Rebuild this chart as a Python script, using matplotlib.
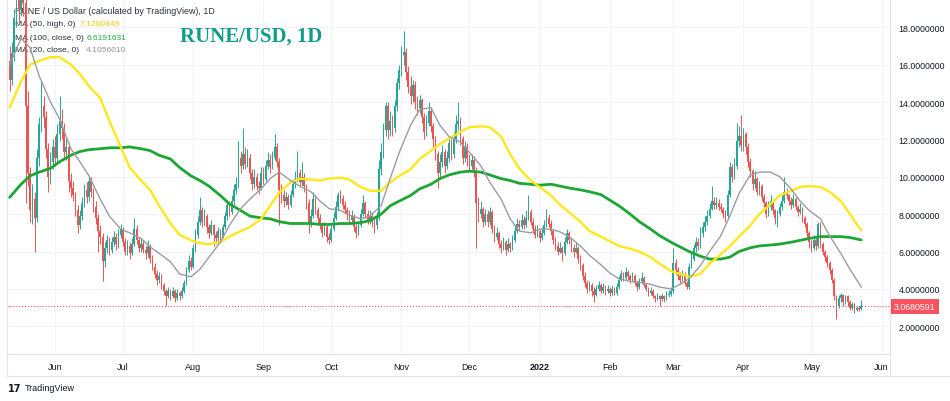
import numpy as np
import pandas as pd
import matplotlib
matplotlib.use("Agg")
import matplotlib.pyplot as plt
import matplotlib.dates as mdates
from matplotlib.lines import Line2D
from matplotlib.transforms import blended_transform_factory

# daily candles, first bar 2021-05-12
start_date = "2021-05-12"

opens = [
    16.2, 15.2, 16.6, 18.5, 19.8, 19.0, 20.5, 19.3, 13.8, 10.2,
    8.2, 8.8, 7.8, 11.0, 12.8, 13.8, 13.2, 11.5, 10.0, 10.8,
    11.6, 11.0, 12.3, 13.0, 12.6, 11.3, 11.6, 9.8, 9.4, 9.0,
    8.2, 7.4, 7.9, 8.6, 9.3, 8.9, 9.8, 9.2, 8.4, 7.8,
    7.1, 6.8, 5.5, 6.2, 6.6, 6.1, 6.5, 6.8, 6.4, 6.9,
    7.2, 6.5, 6.0, 6.3, 5.9, 6.4, 7.2, 6.6, 6.2, 6.4,
    6.1, 5.9, 6.3, 5.6, 5.2, 4.8, 4.5, 4.7, 4.2, 3.9,
    3.6, 3.9, 3.6, 3.9, 3.5, 3.8, 3.6, 3.9, 4.3, 5.0,
    5.5, 5.2, 6.2, 6.9, 7.6, 8.2, 7.6, 7.9, 7.3, 7.0,
    7.4, 6.9, 6.7, 7.1, 6.8, 7.3, 7.9, 8.5, 8.1, 8.7,
    9.3, 9.6, 11.0, 10.6, 11.2, 10.7, 11.0, 10.2, 9.6, 10.0,
    9.5, 9.4, 10.2, 9.9, 10.6, 10.9, 10.5, 11.0, 11.6, 10.8,
    9.3, 9.0, 8.7, 8.9, 8.5, 9.0, 9.6, 9.9, 10.2, 9.7,
    10.0, 9.5, 8.6, 7.5, 7.9, 8.8, 8.2, 7.8, 7.4, 7.0,
    7.3, 6.8, 6.6, 7.2, 7.8, 8.4, 9.0, 8.8, 8.5, 8.2,
    8.0, 7.7, 7.9, 7.3, 7.0, 7.4, 8.0, 8.6, 8.0, 7.7,
    7.9, 7.6, 7.4, 7.8, 10.4, 11.3, 12.5, 13.8, 12.5, 13.0,
    12.6, 13.8, 15.0, 15.7, 16.5, 16.7, 15.6, 14.8, 14.3, 14.9,
    14.0, 13.7, 14.1, 13.2, 12.4, 12.9, 13.5, 12.7, 12.0, 11.2,
    10.2, 10.8, 11.3, 10.6, 11.0, 11.8, 11.2, 12.0, 12.8, 13.0,
    12.0, 11.0, 11.6, 11.0, 10.6, 10.9, 10.3, 8.6, 8.0, 8.3,
    7.6, 8.0, 7.6, 8.1, 7.2, 6.8, 7.0, 6.4, 6.2, 6.5,
    6.1, 6.4, 6.2, 6.6, 7.1, 7.5, 7.3, 7.7, 7.4, 7.8,
    8.1, 7.6, 7.2, 6.9, 7.1, 6.7, 7.0, 7.4, 7.8, 7.5,
    7.1, 6.6, 6.3, 6.0, 6.2, 5.9, 6.5, 7.0, 6.6, 6.2,
    6.0, 6.2, 5.6, 5.3, 4.7, 4.3, 4.0, 4.2, 3.9, 3.7,
    4.0, 4.2, 3.9, 4.1, 3.9, 4.0, 3.8, 4.0, 3.8, 4.1,
    4.5, 4.8, 4.6, 4.9, 4.7, 4.5, 4.7, 4.3, 4.1, 4.4,
    4.6, 4.2, 4.0, 3.8, 3.9, 3.6, 3.5, 3.6, 3.45, 3.6,
    3.45, 3.7, 3.75, 3.9, 5.4, 5.0, 4.7, 4.5, 4.8, 4.3,
    4.1, 5.2, 5.6, 6.2, 6.5, 6.3, 7.0, 7.3, 7.6, 7.9,
    8.3, 8.7, 8.5, 8.6, 8.4, 8.3, 8.0, 7.9, 9.0, 10.5,
    10.0, 10.6, 11.9, 12.2, 11.7, 12.3, 11.6, 10.8, 10.3, 9.6,
    9.9, 9.2, 9.5, 8.9, 8.6, 8.0, 8.4, 8.7, 8.2, 7.8,
    8.0, 8.4, 8.7, 9.2, 9.0, 8.7, 8.5, 8.8, 8.4, 8.1,
    8.3, 7.8, 7.5, 7.0, 6.5, 6.2, 6.6, 6.3, 7.5, 6.4,
    6.0, 5.7, 5.4, 5.0, 4.5, 3.6, 3.1, 3.5, 3.7, 3.3,
    3.6, 3.3, 3.0, 3.2, 2.9, 3.0, 2.95,
]

highs = [
    17.0, 17.2, 19.0, 20.6, 20.8, 21.3, 21.0, 19.8, 14.6, 10.5,
    9.6, 9.2, 11.5, 13.2, 15.1, 14.3, 13.5, 11.8, 11.3, 12.0,
    12.2, 12.8, 14.3, 13.6, 12.9, 12.1, 11.8, 10.2, 9.8, 9.2,
    8.5, 8.2, 8.9, 9.6, 9.7, 10.1, 10.0, 9.4, 8.7, 8.0,
    7.4, 7.0, 6.5, 6.9, 6.8, 6.8, 7.1, 7.0, 7.2, 7.5,
    7.3, 6.7, 6.6, 6.5, 6.7, 7.8, 7.4, 6.8, 6.7, 6.6,
    6.3, 6.6, 6.4, 5.8, 5.4, 5.0, 4.9, 4.8, 4.3, 4.0,
    4.1, 4.0, 4.1, 4.0, 4.0, 3.9, 4.1, 4.5, 5.2, 5.8,
    5.7, 6.4, 7.2, 7.9, 8.9, 8.4, 8.3, 8.0, 7.5, 7.7,
    7.5, 7.1, 7.3, 7.2, 7.5, 8.1, 8.7, 8.7, 9.0, 9.6,
    10.0, 11.9, 11.4, 12.6, 11.6, 11.5, 11.2, 10.4, 10.4, 10.2,
    9.8, 10.5, 10.5, 10.9, 11.3, 11.2, 11.4, 12.3, 11.8, 11.0,
    9.6, 9.3, 9.2, 9.1, 9.3, 9.9, 10.3, 11.4, 10.4, 10.8,
    10.2, 9.6, 8.8, 8.3, 9.2, 9.0, 8.4, 8.0, 7.6, 7.6,
    7.4, 7.0, 7.4, 8.1, 8.7, 9.2, 9.3, 9.0, 8.7, 8.4,
    8.2, 8.2, 8.0, 7.5, 7.6, 8.3, 9.0, 8.7, 8.2, 8.2,
    8.1, 7.8, 8.1, 10.9, 11.8, 12.9, 14.0, 14.0, 13.5, 13.3,
    14.1, 15.3, 16.0, 17.0, 17.8, 16.9, 15.9, 15.4, 15.2, 15.1,
    14.3, 14.4, 14.2, 13.4, 13.3, 14.0, 13.7, 12.9, 12.2, 11.4,
    11.2, 11.7, 11.5, 11.4, 12.1, 12.0, 12.4, 13.3, 14.0, 13.2,
    12.2, 11.9, 11.8, 11.2, 11.2, 11.1, 10.5, 8.9, 8.7, 8.4,
    8.3, 8.2, 8.4, 8.2, 7.4, 7.3, 7.1, 6.6, 6.8, 6.6,
    6.7, 6.5, 6.9, 7.4, 7.8, 7.7, 8.0, 7.9, 8.2, 9.0,
    8.3, 7.8, 7.4, 7.4, 7.2, 7.3, 7.7, 8.3, 8.0, 7.7,
    7.2, 6.8, 6.5, 6.5, 6.3, 6.8, 7.2, 7.1, 6.8, 6.4,
    6.5, 6.3, 5.8, 5.4, 4.9, 4.5, 4.4, 4.3, 4.1, 4.2,
    4.4, 4.3, 4.3, 4.2, 4.2, 4.1, 4.2, 4.1, 4.3, 4.7,
    5.0, 4.9, 5.2, 5.0, 4.8, 4.9, 4.8, 4.4, 4.6, 4.9,
    4.7, 4.3, 4.1, 4.1, 4.0, 3.7, 3.8, 3.7, 3.8, 3.7,
    3.9, 3.95, 4.1, 6.2, 5.6, 5.2, 4.9, 5.0, 4.9, 4.4,
    5.4, 5.9, 6.4, 6.8, 6.7, 7.3, 7.6, 7.9, 8.2, 8.6,
    9.5, 8.9, 8.9, 8.8, 8.6, 8.4, 8.2, 9.3, 10.8, 10.7,
    11.0, 12.9, 12.7, 13.3, 12.6, 12.4, 11.8, 11.0, 10.4, 10.3,
    10.0, 9.8, 9.6, 9.1, 8.7, 8.7, 9.0, 8.8, 8.3, 8.2,
    8.6, 9.0, 10.0, 9.4, 9.1, 8.9, 9.1, 8.9, 8.5, 8.6,
    8.4, 7.9, 7.6, 7.1, 6.6, 6.9, 6.7, 7.6, 7.6, 6.5,
    6.1, 5.8, 5.5, 5.1, 4.6, 3.7, 3.7, 3.8, 3.75, 3.7,
    3.65, 3.4, 3.3, 3.25, 3.1, 3.1, 3.4,
]

lows = [
    14.6, 14.9, 16.2, 18.0, 18.2, 18.6, 18.6, 8.6, 9.5, 7.6,
    7.5, 6.0, 7.6, 10.6, 12.4, 12.6, 11.0, 9.2, 9.6, 10.4,
    10.6, 10.7, 11.9, 12.0, 11.0, 10.9, 9.2, 8.9, 8.7, 7.9,
    7.0, 7.2, 7.7, 8.4, 8.6, 8.7, 8.9, 8.1, 7.5, 6.0,
    6.4, 4.4, 5.2, 5.9, 5.8, 5.9, 6.3, 6.1, 6.2, 6.7,
    6.3, 5.8, 5.8, 5.6, 5.8, 6.3, 6.4, 6.0, 6.0, 5.9,
    5.6, 5.7, 5.4, 5.0, 4.6, 4.2, 4.3, 4.0, 3.7, 3.1,
    3.5, 3.4, 3.5, 3.3, 3.4, 3.4, 3.5, 3.8, 4.2, 4.9,
    5.0, 5.1, 6.0, 6.7, 7.4, 7.3, 7.4, 7.0, 6.7, 6.9,
    6.3, 6.4, 6.5, 6.6, 6.7, 7.2, 7.7, 7.9, 8.0, 8.5,
    9.1, 9.4, 10.2, 10.4, 10.4, 10.5, 9.9, 9.3, 9.4, 9.3,
    9.1, 9.3, 9.6, 9.8, 10.4, 10.2, 10.4, 10.9, 10.5, 7.4,
    8.6, 8.4, 8.5, 8.3, 8.4, 8.9, 9.4, 9.7, 9.5, 9.5,
    9.2, 8.3, 7.0, 7.3, 7.8, 8.0, 7.5, 7.2, 6.8, 6.9,
    6.5, 6.4, 6.5, 7.1, 7.7, 8.2, 8.6, 8.3, 8.0, 7.7,
    7.5, 7.5, 7.1, 6.7, 6.9, 7.3, 7.9, 7.8, 7.5, 7.5,
    7.3, 7.0, 7.2, 7.7, 10.1, 11.0, 12.2, 12.0, 12.2, 12.2,
    12.4, 13.5, 14.7, 15.4, 16.0, 15.2, 14.5, 13.9, 14.0, 13.6,
    13.3, 13.4, 12.9, 12.0, 12.2, 12.7, 12.4, 11.6, 10.9, 9.4,
    9.9, 10.5, 10.2, 10.4, 10.8, 10.9, 11.0, 11.8, 12.5, 11.7,
    10.7, 10.8, 10.6, 10.3, 10.4, 10.0, 6.2, 7.6, 7.8, 7.3,
    7.4, 7.3, 7.4, 7.0, 6.5, 6.6, 6.2, 5.9, 6.1, 5.8,
    6.0, 6.0, 6.1, 6.5, 7.0, 7.1, 7.2, 7.2, 7.3, 7.7,
    7.4, 7.0, 6.7, 6.8, 6.5, 6.6, 6.9, 7.3, 7.3, 6.9,
    6.4, 6.1, 5.8, 5.9, 5.5, 5.8, 6.4, 6.4, 6.0, 5.7,
    5.9, 5.4, 5.0, 4.5, 4.1, 3.8, 3.9, 3.6, 3.3, 3.6,
    3.9, 3.8, 3.8, 3.7, 3.8, 3.6, 3.7, 3.7, 3.7, 4.0,
    4.4, 4.4, 4.5, 4.5, 4.3, 4.4, 4.2, 3.9, 4.0, 4.3,
    4.1, 3.9, 3.6, 3.7, 3.5, 3.3, 3.4, 3.1, 3.35, 3.3,
    3.4, 3.55, 3.6, 3.8, 4.8, 4.5, 4.3, 4.4, 4.2, 4.0,
    4.0, 5.1, 5.5, 6.0, 6.1, 6.2, 6.8, 7.1, 7.4, 7.8,
    8.2, 8.3, 8.3, 8.2, 8.1, 7.8, 7.6, 7.8, 8.9, 9.7,
    9.9, 10.4, 11.6, 11.4, 11.4, 11.2, 10.5, 10.0, 9.3, 9.4,
    9.0, 9.0, 8.7, 8.4, 7.8, 7.9, 8.2, 8.0, 7.5, 7.3,
    7.9, 8.2, 8.6, 8.8, 8.5, 8.3, 8.4, 8.2, 7.9, 8.0,
    7.6, 7.3, 6.8, 6.2, 6.0, 6.1, 6.1, 6.2, 6.2, 5.8,
    5.5, 5.2, 4.8, 4.3, 3.4, 2.4, 3.0, 3.3, 3.1, 3.2,
    3.1, 2.9, 2.9, 2.7, 2.8, 2.8, 2.9,
]

closes = [
    15.2, 16.6, 18.5, 19.8, 19.0, 20.5, 19.3, 13.8, 10.2, 8.2,
    8.8, 7.8, 11.0, 12.8, 13.8, 13.2, 11.5, 10.0, 10.8, 11.6,
    11.0, 12.3, 13.0, 12.6, 11.3, 11.6, 9.8, 9.4, 9.0, 8.2,
    7.4, 7.9, 8.6, 9.3, 8.9, 9.8, 9.2, 8.4, 7.8, 7.1,
    6.8, 5.5, 6.2, 6.6, 6.1, 6.5, 6.8, 6.4, 6.9, 7.2,
    6.5, 6.0, 6.3, 5.9, 6.4, 7.2, 6.6, 6.2, 6.4, 6.1,
    5.9, 6.3, 5.6, 5.2, 4.8, 4.5, 4.7, 4.2, 3.9, 3.6,
    3.9, 3.6, 3.9, 3.5, 3.8, 3.6, 3.9, 4.3, 5.0, 5.5,
    5.2, 6.2, 6.9, 7.6, 8.2, 7.6, 7.9, 7.3, 7.0, 7.4,
    6.9, 6.7, 7.1, 6.8, 7.3, 7.9, 8.5, 8.1, 8.7, 9.3,
    9.6, 11.0, 10.6, 11.2, 10.7, 11.0, 10.2, 9.6, 10.0, 9.5,
    9.4, 10.2, 9.9, 10.6, 10.9, 10.5, 11.0, 11.6, 10.8, 9.3,
    9.0, 8.7, 8.9, 8.5, 9.0, 9.6, 9.9, 10.2, 9.7, 10.0,
    9.5, 8.6, 7.5, 7.9, 8.8, 8.2, 7.8, 7.4, 7.0, 7.3,
    6.8, 6.6, 7.2, 7.8, 8.4, 9.0, 8.8, 8.5, 8.2, 8.0,
    7.7, 7.9, 7.3, 7.0, 7.4, 8.0, 8.6, 8.0, 7.7, 7.9,
    7.6, 7.4, 7.8, 10.4, 11.3, 12.5, 13.8, 12.5, 13.0, 12.6,
    13.8, 15.0, 15.7, 16.5, 16.7, 15.6, 14.8, 14.3, 14.9, 14.0,
    13.7, 14.1, 13.2, 12.4, 12.9, 13.5, 12.7, 12.0, 11.2, 10.2,
    10.8, 11.3, 10.6, 11.0, 11.8, 11.2, 12.0, 12.8, 13.0, 12.0,
    11.0, 11.6, 11.0, 10.6, 10.9, 10.3, 8.6, 8.0, 8.3, 7.6,
    8.0, 7.6, 8.1, 7.2, 6.8, 7.0, 6.4, 6.2, 6.5, 6.1,
    6.4, 6.2, 6.6, 7.1, 7.5, 7.3, 7.7, 7.4, 7.8, 8.1,
    7.6, 7.2, 6.9, 7.1, 6.7, 7.0, 7.4, 7.8, 7.5, 7.1,
    6.6, 6.3, 6.0, 6.2, 5.9, 6.5, 7.0, 6.6, 6.2, 6.0,
    6.2, 5.6, 5.3, 4.7, 4.3, 4.0, 4.2, 3.9, 3.7, 4.0,
    4.2, 3.9, 4.1, 3.9, 4.0, 3.8, 4.0, 3.8, 4.1, 4.5,
    4.8, 4.6, 4.9, 4.7, 4.5, 4.7, 4.3, 4.1, 4.4, 4.6,
    4.2, 4.0, 3.8, 3.9, 3.6, 3.5, 3.6, 3.45, 3.6, 3.45,
    3.7, 3.75, 3.9, 5.4, 5.0, 4.7, 4.5, 4.8, 4.3, 4.1,
    5.2, 5.6, 6.2, 6.5, 6.3, 7.0, 7.3, 7.6, 7.9, 8.3,
    8.7, 8.5, 8.6, 8.4, 8.3, 8.0, 7.9, 9.0, 10.5, 10.0,
    10.6, 11.9, 12.2, 11.7, 12.3, 11.6, 10.8, 10.3, 9.6, 9.9,
    9.2, 9.5, 8.9, 8.6, 8.0, 8.4, 8.7, 8.2, 7.8, 8.0,
    8.4, 8.7, 9.2, 9.0, 8.7, 8.5, 8.8, 8.4, 8.1, 8.3,
    7.8, 7.5, 7.0, 6.5, 6.2, 6.6, 6.3, 7.5, 6.4, 6.0,
    5.7, 5.4, 5.0, 4.5, 3.6, 3.1, 3.5, 3.7, 3.3, 3.6,
    3.3, 3.0, 3.2, 2.9, 3.0, 2.95, 3.0680591,
]

# moving averages (day offset from first bar)
ma_day = [
    0, 5, 9, 13, 18, 22, 27, 31, 35, 40,
    44, 49, 53, 58, 62, 66, 71, 75, 80, 84,
    88, 93, 97, 102, 106, 111, 115, 119, 124, 128,
    133, 137, 141, 146, 150, 155, 159, 164, 168, 172,
    177, 181, 186, 190, 194, 199, 203, 208, 212, 217,
    221, 225, 230, 234, 239, 243, 247, 252, 256, 261,
    265, 269, 274, 278, 283, 287, 292, 296, 300, 305,
    309, 314, 318, 322, 327, 331, 336, 340, 345, 349,
    353, 358, 362, 367, 371, 376,
]
ma50_high = [
    13.7, 15.1, 16.0, 16.2, 16.4, 16.4, 16.0, 15.5, 14.85, 14.2,
    13.0, 11.6, 10.5, 9.8, 9.3, 8.45, 7.5, 6.9, 6.6, 6.45,
    6.4, 6.5, 6.8, 7.1, 7.3, 7.75, 8.45, 9.15, 9.7, 9.9,
    9.85, 9.8, 9.9, 9.95, 9.85, 9.45, 9.25, 9.25, 9.7, 10.05,
    10.4, 10.95, 11.4, 11.75, 12.05, 12.4, 12.65, 12.7, 12.65, 12.15,
    11.2, 10.45, 9.8, 9.45, 9.0, 8.5, 8.1, 7.6, 7.1, 6.8,
    6.55, 6.3, 6.15, 6.0, 5.7, 5.35, 4.95, 4.8, 4.65, 4.8,
    5.35, 5.85, 6.3, 6.8, 7.4, 8.0, 8.55, 9.0, 9.25, 9.45,
    9.5, 9.45, 9.2, 8.7, 8.0, 7.13,
]
ma100_close = [
    8.9, 9.6, 10.05, 10.25, 10.45, 10.8, 11.15, 11.35, 11.45, 11.5,
    11.55, 11.55, 11.6, 11.5, 11.4, 11.15, 10.95, 10.5, 10.05, 9.8,
    9.5, 9.0, 8.55, 8.2, 7.9, 7.8, 7.75, 7.6, 7.5, 7.5,
    7.5, 7.45, 7.45, 7.5, 7.5, 7.55, 7.65, 8.0, 8.45, 8.7,
    9.0, 9.35, 9.6, 9.9, 10.1, 10.25, 10.3, 10.25, 10.1, 9.9,
    9.8, 9.65, 9.6, 9.55, 9.6, 9.5, 9.4, 9.3, 9.2, 9.05,
    8.75, 8.45, 8.0, 7.6, 7.2, 6.85, 6.5, 6.25, 6.0, 5.75,
    5.6, 5.6, 5.7, 6.0, 6.2, 6.3, 6.35, 6.4, 6.5, 6.6,
    6.7, 6.8, 6.8, 6.8, 6.75, 6.62,
]
ma20_close = [
    16.0, 17.4, 16.9, 15.4, 14.0, 13.1, 11.5, 10.8, 10.05, 8.8,
    7.9, 7.2, 7.0, 6.7, 6.25, 5.9, 5.45, 4.8, 4.65, 5.05,
    5.7, 6.5, 7.4, 8.3, 8.8, 9.35, 9.9, 10.25, 9.8, 9.5,
    9.2, 8.7, 8.3, 8.2, 7.95, 7.75, 7.9, 8.45, 9.9, 11.3,
    12.75, 13.6, 13.7, 12.75, 12.15, 11.85, 11.3, 10.6, 9.7, 8.8,
    7.75, 7.1, 7.0, 7.2, 7.2, 7.05, 6.8, 6.3, 5.8, 5.3,
    4.85, 4.55, 4.4, 4.35, 4.25, 4.1, 4.0, 4.25, 4.55, 5.25,
    6.0, 6.85, 7.9, 9.1, 10.1, 10.25, 10.25, 10.0, 9.35, 8.7,
    8.2, 7.75, 6.85, 5.9, 5.05, 4.1,
]

legend_labels = ["MA (50, high, 0)", "MA (100, close, 0)", "MA (20, close, 0)"]
legend_values = ["7.1260949", "6.6191631", "4.1056010"]

month_ticks = ["2021-06-01", "2021-07-01", "2021-08-01", "2021-09-01", "2021-10-01",
               "2021-11-01", "2021-12-01", "2022-01-01", "2022-02-01", "2022-03-01",
               "2022-04-01", "2022-05-01", "2022-06-01"]
month_labels = ["Jun", "Jul", "Aug", "Sep", "Oct", "Nov", "Dec", "2022",
                "Feb", "Mar", "Apr", "May", "Jun"]
price_ticks = [2, 4, 6, 8, 10, 12, 14, 16, 18]

UP = "#26a69a"
DOWN = "#ef5350"
TXT = "#131722"
W, H = 950, 402

o = np.array(opens)
h = np.array(highs)
l = np.array(lows)
c = np.array(closes)
dates = pd.date_range(start_date, periods=len(c), freq="D")
x = mdates.date2num(dates)
x0 = x[0]

fig = plt.figure(figsize=(W / 100, H / 100), dpi=100, facecolor="white")
ax = fig.add_axes([7 / W, 1 - 355 / H, 883 / W, 355 / H])
ax.set_facecolor("white")

# candles
col = np.where(c >= o, UP, DOWN)
ax.vlines(x, l, h, colors=col, linewidth=0.7, zorder=3)
ax.bar(x, np.maximum(np.abs(c - o), 0.04), bottom=np.minimum(o, c), width=0.72,
       color=col, linewidth=0, zorder=4)

# moving averages
mx = x0 + np.array(ma_day)
ax.plot(mx, ma100_close, color="#1ea634", lw=2.0, zorder=5, solid_capstyle="round")
ax.plot(mx, ma50_high, color="#ffe81a", lw=1.7, zorder=5, solid_capstyle="round")
ax.plot(mx, ma20_close, color="#9a9ca3", lw=1.0, zorder=5)

# last price line
last = closes[-1]
ax.axhline(last, color="#f23645", lw=0.7, ls=(0, (1, 2)), zorder=2)

ax.set_xlim(x0 - 1.19, x0 + 388.7)
ax.set_ylim(0.52, 19.51)

ax.set_xticks(mdates.date2num(pd.to_datetime(month_ticks)))
ax.set_xticklabels(month_labels)
for t in ax.get_xticklabels():
    if t.get_text() == "2022":
        t.set_fontweight("bold")
ax.tick_params(axis="x", length=0, pad=6, labelsize=6.5, labelcolor=TXT)

ax.yaxis.tick_right()
ax.set_yticks(price_ticks)
ax.set_yticklabels([f"{v:.7f}" for v in price_ticks])
ax.tick_params(axis="y", length=0, pad=6, labelsize=6.3, labelcolor=TXT)

ax.grid(True, color="#f0f3fa", lw=0.8, zorder=0)
ax.set_axisbelow(True)
for s in ["left", "bottom", "right"]:
    ax.spines[s].set_color("#e0e3eb")
    ax.spines[s].set_linewidth(0.8)
ax.spines["top"].set_visible(False)

for t in ax.get_xticklabels() + ax.get_yticklabels():
    t.set_fontfamily("Liberation Sans")

# price label box
trans = blended_transform_factory(ax.transAxes, ax.transData)
ax.text(1.0 + 4 / 883, last, f"{last:.7f}", transform=trans, ha="left", va="center",
        color="white", fontsize=6.3, family="Liberation Sans", zorder=10,
        bbox=dict(boxstyle="square,pad=0.35", fc="#f7525f", ec="none"))

# legend texts (drawn behind candles like the original)
tf = fig.transFigure
ax.text(15 / W, 1 - 12 / H, "RUNE / US Dollar (calculated by TradingView), 1D",
        transform=tf, ha="left", va="center", fontsize=6.4, color="#2a2e39",
        family="Liberation Sans", zorder=2)
leg_y = [25, 38, 51]
leg_vx = [80, 87, 86]
leg_col = ["#e6cf00", "#1fae3c", "#8f9199"]
for yy, lab, val, vx, vc in zip(leg_y, legend_labels, legend_values, leg_vx, leg_col):
    ax.text(15 / W, 1 - yy / H, lab, transform=tf, ha="left", va="center",
            fontsize=6.1, color="#2a2e39", family="Liberation Sans", zorder=2)
    ax.text(vx / W, 1 - yy / H, val, transform=tf, ha="left", va="center",
            fontsize=6.1, color=vc, family="Liberation Sans", zorder=2)

fig.text(251 / W, 1 - 37 / H, "RUNE/USD, 1D", ha="center", va="center",
         fontsize=15, fontweight="bold", family="Liberation Serif", color="#0f9d8a")

# panel borders
bc = "#e0e3eb"
fig.add_artist(Line2D([7 / W, 7 / W], [1 - 355 / H, 1 - 377 / H], color=bc, lw=0.8))
fig.add_artist(Line2D([7 / W, 1.0], [1 - 377 / H, 1 - 377 / H], color=bc, lw=0.8))
fig.add_artist(Line2D([890 / W, 890 / W], [1 - 355 / H, 1 - 377 / H], color=bc, lw=0.8))

# footer
fig.text(8 / W, 1 - 389 / H, "17", ha="left", va="center", fontsize=7,
         fontweight="heavy", color=TXT, family="DejaVu Sans")
fig.text(25 / W, 1 - 389 / H, "TradingView", ha="left", va="center", fontsize=6.5,
         color=TXT, family="Liberation Sans")

fig.savefig("out.png", dpi=100, facecolor="white")
